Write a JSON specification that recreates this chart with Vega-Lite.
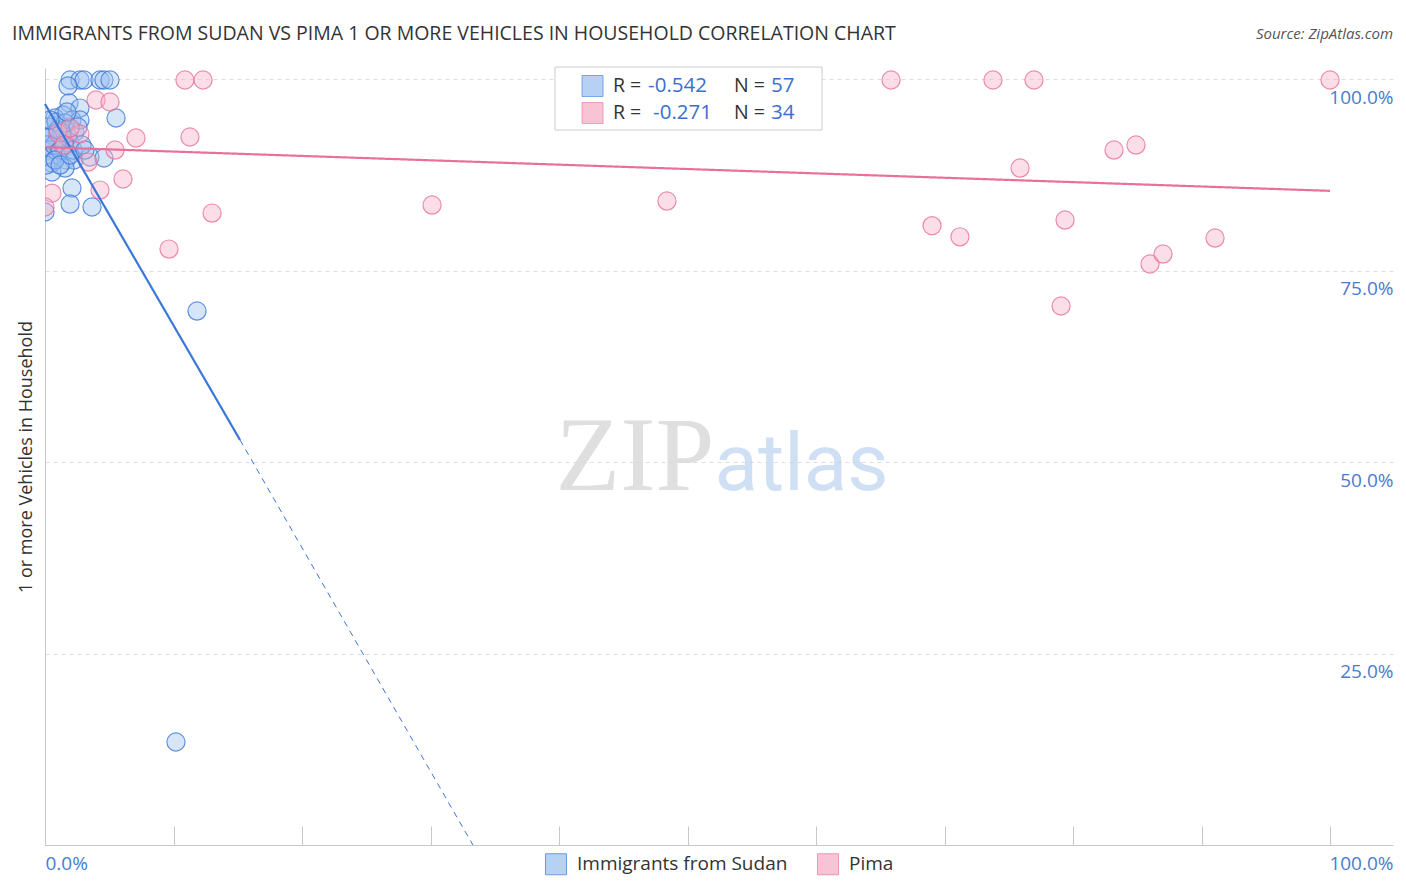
{
  "$schema": "https://vega.github.io/schema/vega-lite/v6.json",
  "width": 1348,
  "height": 777,
  "autosize": {"type": "none"},
  "padding": {"left": 45, "top": 68, "right": 13, "bottom": 47},
  "background": "white",
  "config": {"view": {"stroke": null}, "font": "Open Sans"},
  "datasets": {
    "points": [
      {"series": "Immigrants from Sudan", "x": 1.95, "y": 99.87},
      {"series": "Immigrants from Sudan", "x": 2.72, "y": 99.87},
      {"series": "Immigrants from Sudan", "x": 3.04, "y": 99.87},
      {"series": "Immigrants from Sudan", "x": 4.28, "y": 99.87},
      {"series": "Immigrants from Sudan", "x": 4.59, "y": 99.87},
      {"series": "Immigrants from Sudan", "x": 5.06, "y": 99.87},
      {"series": "Immigrants from Sudan", "x": 1.79, "y": 99.09},
      {"series": "Immigrants from Sudan", "x": 1.87, "y": 96.87},
      {"series": "Immigrants from Sudan", "x": 2.72, "y": 96.21},
      {"series": "Immigrants from Sudan", "x": 5.53, "y": 94.91},
      {"series": "Immigrants from Sudan", "x": 1.40, "y": 95.30},
      {"series": "Immigrants from Sudan", "x": 0.78, "y": 94.91},
      {"series": "Immigrants from Sudan", "x": 2.10, "y": 94.65},
      {"series": "Immigrants from Sudan", "x": 1.17, "y": 93.99},
      {"series": "Immigrants from Sudan", "x": 0.23, "y": 93.73},
      {"series": "Immigrants from Sudan", "x": 1.63, "y": 93.34},
      {"series": "Immigrants from Sudan", "x": 0.54, "y": 92.69},
      {"series": "Immigrants from Sudan", "x": 2.33, "y": 93.08},
      {"series": "Immigrants from Sudan", "x": 0.93, "y": 92.04},
      {"series": "Immigrants from Sudan", "x": 0.16, "y": 91.38},
      {"series": "Immigrants from Sudan", "x": 1.40, "y": 91.12},
      {"series": "Immigrants from Sudan", "x": 1.95, "y": 91.64},
      {"series": "Immigrants from Sudan", "x": 0.39, "y": 90.73},
      {"series": "Immigrants from Sudan", "x": 1.01, "y": 90.08},
      {"series": "Immigrants from Sudan", "x": 0.0, "y": 89.82},
      {"series": "Immigrants from Sudan", "x": 1.63, "y": 89.43},
      {"series": "Immigrants from Sudan", "x": 2.26, "y": 89.43},
      {"series": "Immigrants from Sudan", "x": 3.50, "y": 89.82},
      {"series": "Immigrants from Sudan", "x": 4.59, "y": 89.69},
      {"series": "Immigrants from Sudan", "x": 0.54, "y": 89.03},
      {"series": "Immigrants from Sudan", "x": 1.56, "y": 88.38},
      {"series": "Immigrants from Sudan", "x": 0.54, "y": 87.86},
      {"series": "Immigrants from Sudan", "x": 2.10, "y": 85.77},
      {"series": "Immigrants from Sudan", "x": 1.95, "y": 83.68},
      {"series": "Immigrants from Sudan", "x": 3.66, "y": 83.29},
      {"series": "Immigrants from Sudan", "x": 0.0, "y": 82.64},
      {"series": "Immigrants from Sudan", "x": 11.83, "y": 69.71},
      {"series": "Immigrants from Sudan", "x": 10.19, "y": 13.45},
      {"series": "Immigrants from Sudan", "x": 2.72, "y": 94.65},
      {"series": "Immigrants from Sudan", "x": 0.86, "y": 94.39},
      {"series": "Immigrants from Sudan", "x": 1.32, "y": 93.08},
      {"series": "Immigrants from Sudan", "x": 1.79, "y": 92.43},
      {"series": "Immigrants from Sudan", "x": 0.70, "y": 91.38},
      {"series": "Immigrants from Sudan", "x": 1.17, "y": 90.73},
      {"series": "Immigrants from Sudan", "x": 0.23, "y": 92.30},
      {"series": "Immigrants from Sudan", "x": 2.18, "y": 90.73},
      {"series": "Immigrants from Sudan", "x": 2.88, "y": 91.38},
      {"series": "Immigrants from Sudan", "x": 1.01, "y": 93.34},
      {"series": "Immigrants from Sudan", "x": 1.56, "y": 94.26},
      {"series": "Immigrants from Sudan", "x": 0.39, "y": 94.65},
      {"series": "Immigrants from Sudan", "x": 2.57, "y": 93.73},
      {"series": "Immigrants from Sudan", "x": 0.08, "y": 88.77},
      {"series": "Immigrants from Sudan", "x": 0.78, "y": 89.43},
      {"series": "Immigrants from Sudan", "x": 1.17, "y": 88.77},
      {"series": "Immigrants from Sudan", "x": 1.95, "y": 90.08},
      {"series": "Immigrants from Sudan", "x": 3.11, "y": 90.73},
      {"series": "Immigrants from Sudan", "x": 1.71, "y": 95.69},
      {"series": "Pima", "x": 10.89, "y": 99.87},
      {"series": "Pima", "x": 12.30, "y": 99.87},
      {"series": "Pima", "x": 65.84, "y": 99.87},
      {"series": "Pima", "x": 73.77, "y": 99.87},
      {"series": "Pima", "x": 76.96, "y": 99.87},
      {"series": "Pima", "x": 100.0, "y": 99.87},
      {"series": "Pima", "x": 3.97, "y": 97.26},
      {"series": "Pima", "x": 5.06, "y": 97.0},
      {"series": "Pima", "x": 7.08, "y": 92.3},
      {"series": "Pima", "x": 11.28, "y": 92.43},
      {"series": "Pima", "x": 5.45, "y": 90.73},
      {"series": "Pima", "x": 3.35, "y": 89.16},
      {"series": "Pima", "x": 6.07, "y": 86.95},
      {"series": "Pima", "x": 4.28, "y": 85.5},
      {"series": "Pima", "x": 0.54, "y": 85.1},
      {"series": "Pima", "x": 13.0, "y": 82.5},
      {"series": "Pima", "x": 9.65, "y": 77.8},
      {"series": "Pima", "x": 30.12, "y": 83.55},
      {"series": "Pima", "x": 48.4, "y": 84.07},
      {"series": "Pima", "x": 69.03, "y": 80.85},
      {"series": "Pima", "x": 71.2, "y": 79.4},
      {"series": "Pima", "x": 75.88, "y": 88.38},
      {"series": "Pima", "x": 79.38, "y": 81.59},
      {"series": "Pima", "x": 79.07, "y": 70.37},
      {"series": "Pima", "x": 83.19, "y": 90.73},
      {"series": "Pima", "x": 84.9, "y": 91.38},
      {"series": "Pima", "x": 85.99, "y": 75.85},
      {"series": "Pima", "x": 87.0, "y": 77.15},
      {"series": "Pima", "x": 91.05, "y": 79.24},
      {"series": "Pima", "x": 1.01, "y": 92.95},
      {"series": "Pima", "x": 2.72, "y": 92.82},
      {"series": "Pima", "x": 1.95, "y": 93.6},
      {"series": "Pima", "x": 0.0, "y": 83.29},
      {"series": "Pima", "x": 1.48, "y": 91.38}
    ],
    "fits": [
      {"series": "Immigrants from Sudan", "part": "fit", "x": 0, "y": 96.74, "x2": 15.18, "y2": 52.87},
      {"series": "Immigrants from Sudan", "part": "extension", "x": 15.18, "y": 52.87, "x2": 33.3, "y2": 0},
      {"series": "Pima", "part": "fit", "x": 0, "y": 91.1, "x2": 100, "y2": 85.4}
    ],
    "stats": [
      {"series": "Immigrants from Sudan", "r": "-0.542", "n": "57"},
      {"series": "Pima", "r": "-0.271", "n": "34"}
    ]
  },
  "layer": [
    {
      "data": {"name": "points"},
      "mark": {"type": "circle", "size": 330, "fillOpacity": 0.42, "strokeWidth": 1.2, "strokeOpacity": 0.8, "clip": true},
      "encoding": {
        "x": {
          "field": "x", "type": "quantitative",
          "scale": {"domain": [0, 104.9], "nice": false, "zero": false},
          "axis": {
            "values": [0, 10, 20, 30, 40, 50, 60, 70, 80, 90, 100],
            "title": null, "grid": false,
            "domainColor": "#c8c8c8", "tickColor": "#c8c8c8", "tickSize": -19,
            "labelExpr": "datum.value == 0 || datum.value == 100 ? format(datum.value, '.1f') + '%' : ''",
            "labelAlign": {"condition": {"test": "datum.value == 100", "value": "right"}, "value": "left"},
            "labelOffset": {"condition": {"test": "datum.value == 100", "value": 63}, "value": 0},
            "labelColor": "#4a7bd0", "labelFontSize": 19, "labelPadding": 28, "labelFlush": false
          }
        },
        "y": {
          "field": "y", "type": "quantitative",
          "scale": {"domain": [0, 101.44], "nice": false, "zero": false},
          "axis": {
            "orient": "left", "title": "1 or more Vehicles in Household",
            "labels": false, "ticks": false, "grid": false,
            "domainColor": "#c8c8c8", "titleFontSize": 18, "titleFontWeight": "normal",
            "titleColor": "#333333", "titlePadding": 10
          }
        },
        "fill": {
          "field": "series", "type": "nominal",
          "scale": {"domain": ["Immigrants from Sudan", "Pima"], "range": ["#9fc2f0", "#f6b0c6"]},
          "legend": {
            "title": null, "orient": "none", "legendX": 500, "legendY": 785, "direction": "horizontal",
            "symbolType": "square", "symbolSize": 441, "symbolOpacity": 0.75, "symbolStrokeWidth": 1,
            "labelFontSize": 19, "labelColor": "#333333", "labelOffset": 10, "labelLimit": 400, "columnPadding": 27
          }
        },
        "stroke": {
          "field": "series", "type": "nominal",
          "scale": {"domain": ["Immigrants from Sudan", "Pima"], "range": ["#3a78d8", "#e8709a"]},
          "legend": {
            "title": null, "orient": "none", "legendX": 500, "legendY": 785, "direction": "horizontal",
            "symbolType": "square", "symbolSize": 441, "symbolOpacity": 0.75, "symbolStrokeWidth": 1,
            "labelFontSize": 19, "labelColor": "#333333", "labelOffset": 10, "labelLimit": 400, "columnPadding": 27
          }
        }
      }
    },
    {
      "data": {"name": "fits"},
      "mark": {"type": "rule"},
      "encoding": {
        "x": {"field": "x", "type": "quantitative"},
        "y": {
          "field": "y", "type": "quantitative",
          "axis": {
            "orient": "right", "values": [25, 50, 75, 100], "title": null,
            "domain": false, "ticks": false, "grid": true, "gridDash": [4, 4], "gridColor": "#dedede",
            "labelAlign": "right", "labelPadding": 0, "labelOffset": 18, "labelBaseline": "middle",
            "labelExpr": "format(datum.value, '.1f') + '%'",
            "labelColor": "#4a7bd0", "labelFontSize": 19
          }
        },
        "x2": {"field": "x2"},
        "y2": {"field": "y2"},
        "stroke": {"field": "series", "type": "nominal"},
        "strokeDash": {"field": "part", "type": "nominal", "scale": {"domain": ["fit", "extension"], "range": [[1, 0], [6, 5]]}, "legend": null},
        "strokeWidth": {"field": "part", "type": "nominal", "scale": {"domain": ["fit", "extension"], "range": [2.2, 1]}, "legend": null}
      }
    },
    {
      "data": {"values": [{"label": "ZIP"}]},
      "mark": {"type": "text", "align": "right", "baseline": "alphabetic", "font": "Liberation Serif", "fontSize": 106, "color": "#d8d8d8", "opacity": 0.8},
      "encoding": {"x": {"datum": 52.1}, "y": {"datum": 46.3, "axis": null}, "text": {"field": "label"}}
    },
    {
      "data": {"values": [{"label": "atlas"}]},
      "mark": {"type": "text", "align": "left", "baseline": "alphabetic", "font": "Roboto", "fontSize": 80, "color": "#bcd3f0", "opacity": 0.7},
      "encoding": {"x": {"datum": 52.1}, "y": {"datum": 46.3, "axis": null}, "text": {"field": "label"}}
    },
    {
      "data": {"values": [{"label": "IMMIGRANTS FROM SUDAN VS PIMA 1 OR MORE VEHICLES IN HOUSEHOLD CORRELATION CHART"}]},
      "mark": {"type": "text", "align": "left", "baseline": "alphabetic", "fontSize": 19.5, "color": "#333333"},
      "encoding": {"x": {"datum": -2.57}, "y": {"datum": 105.09, "axis": null}, "text": {"field": "label"}}
    },
    {
      "data": {"values": [{"label": "Source: ZipAtlas.com"}]},
      "mark": {"type": "text", "align": "right", "baseline": "alphabetic", "fontStyle": "italic", "fontSize": 15, "color": "#555555"},
      "encoding": {"x": {"datum": 104.9}, "y": {"datum": 105.2, "axis": null}, "text": {"field": "label"}}
    },
    {
      "data": {"values": [{"box": "stats"}]},
      "mark": {"type": "rect", "fill": "white", "stroke": "#cccccc", "strokeWidth": 1},
      "encoding": {"x": {"datum": 39.69}, "x2": {"datum": 60.47}, "y": {"datum": 101.57, "axis": null}, "y2": {"datum": 93.34}}
    },
    {
      "data": {"name": "stats"},
      "transform": [{"filter": "datum.series == 'Immigrants from Sudan'"}],
      "layer": [
        {"mark": {"type": "square", "size": 441, "fillOpacity": 0.75, "strokeWidth": 1, "strokeOpacity": 0.6},
         "encoding": {"x": {"datum": 42.61}, "y": {"datum": 99.09, "axis": null}, "fill": {"field": "series", "type": "nominal"}, "stroke": {"field": "series", "type": "nominal"}}},
        {"mark": {"type": "text", "align": "left", "baseline": "middle", "fontSize": 19.5, "color": "#333333", "text": "R = "},
         "encoding": {"x": {"datum": 44.2}, "y": {"datum": 99.09, "axis": null}}},
        {"mark": {"type": "text", "align": "left", "baseline": "middle", "fontSize": 20.5, "color": "#3a6fd0"},
         "encoding": {"x": {"datum": 46.93}, "y": {"datum": 99.09, "axis": null}, "text": {"field": "r"}}},
        {"mark": {"type": "text", "align": "left", "baseline": "middle", "fontSize": 19.5, "color": "#333333", "text": "N = "},
         "encoding": {"x": {"datum": 53.62}, "y": {"datum": 99.09, "axis": null}}},
        {"mark": {"type": "text", "align": "left", "baseline": "middle", "fontSize": 20.5, "color": "#3a6fd0"},
         "encoding": {"x": {"datum": 56.5}, "y": {"datum": 99.09, "axis": null}, "text": {"field": "n"}}}
      ]
    },
    {
      "data": {"name": "stats"},
      "transform": [{"filter": "datum.series == 'Pima'"}],
      "layer": [
        {"mark": {"type": "square", "size": 441, "fillOpacity": 0.75, "strokeWidth": 1, "strokeOpacity": 0.6},
         "encoding": {"x": {"datum": 42.61}, "y": {"datum": 95.56, "axis": null}, "fill": {"field": "series", "type": "nominal"}, "stroke": {"field": "series", "type": "nominal"}}},
        {"mark": {"type": "text", "align": "left", "baseline": "middle", "fontSize": 19.5, "color": "#333333", "text": "R = "},
         "encoding": {"x": {"datum": 44.2}, "y": {"datum": 95.56, "axis": null}}},
        {"mark": {"type": "text", "align": "left", "baseline": "middle", "fontSize": 20.5, "color": "#3a6fd0"},
         "encoding": {"x": {"datum": 47.32}, "y": {"datum": 95.56, "axis": null}, "text": {"field": "r"}}},
        {"mark": {"type": "text", "align": "left", "baseline": "middle", "fontSize": 19.5, "color": "#333333", "text": "N = "},
         "encoding": {"x": {"datum": 53.62}, "y": {"datum": 95.56, "axis": null}}},
        {"mark": {"type": "text", "align": "left", "baseline": "middle", "fontSize": 20.5, "color": "#3a6fd0"},
         "encoding": {"x": {"datum": 56.5}, "y": {"datum": 95.56, "axis": null}, "text": {"field": "n"}}}
      ]
    }
  ]
}
